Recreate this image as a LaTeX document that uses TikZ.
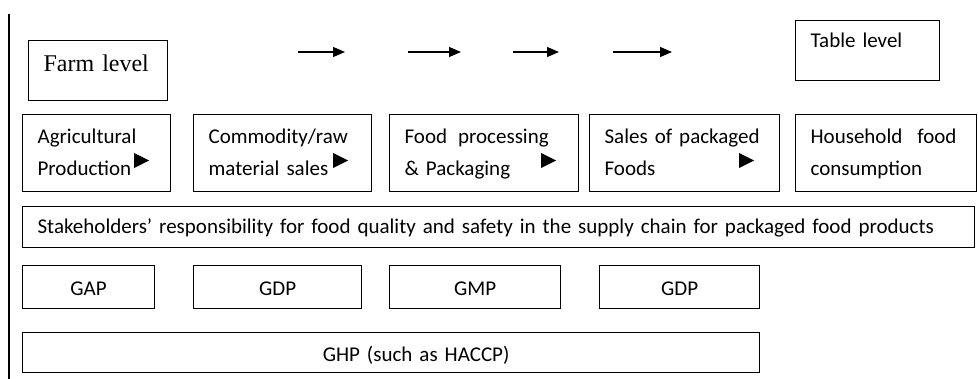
\documentclass[tikz,border=0pt]{standalone}
\usepackage{fontspec}
\setmainfont{Carlito}
\newfontfamily\timesfont{Liberation Serif}
\usetikzlibrary{arrows.meta}
\hyphenpenalty=10000
\exhyphenpenalty=10000

\tikzset{
  stage/.style={draw, line width=0.6pt, anchor=north west, inner xsep=7.5pt, inner ysep=0pt,
    align=left, font=\fontsize{10.5}{16.2}\selectfont},
  twoline/.style={stage, text height=14.35pt, text depth=24.15pt},
  practice/.style={stage, align=center, text height=15pt, text depth=6.5pt},
}

\begin{document}
\begin{tikzpicture}[x=0.5pt, y=-0.5pt]
    \useasboundingbox (0,0) rectangle (978,379);
    \draw[line width=0.6pt] (9,14) -- (9,379);

    \node[stage, font=\timesfont\fontsize{12}{14}\selectfont, text width=54.5pt,
      text height=15.35pt, text depth=14.65pt] (farm) at (28,40) {Farm level};
    \node[stage, text width=57pt, text height=13.35pt, text depth=16.65pt] (table) at (795,20) {Table level};

    \foreach \i/\a/\b in {1/298/345, 2/408/461, 3/513/559, 4/613/672} {
        \coordinate (s\i) at (\a,52);
        \coordinate (e\i) at (\b,52);
        \draw[line width=0.6pt, -{Triangle[length=6pt,width=5pt]}] (s\i) -- (e\i);
    }

    \node[twoline, text width=59pt]   (agri)    at (22,114)  {Agricultural\\Production};
    \node[twoline, text width=74pt]   (raw)     at (193,114) {Commodity/raw\\material sales};
    \node[twoline, text width=79.5pt] (process) at (389,114) {Food\hspace{5.5pt}processing\\\& Packaging};
    \node[twoline, text width=80pt]   (sales)   at (589,114) {Sales of packaged\\Foods};
    \node[twoline, text width=75.5pt] (house)   at (795,114) {Household\hspace{7.5pt}food\\consumption};

    \foreach \x in {134,333,541,739}
        \fill (\x,153) -- (\x+15,160.5) -- (\x,168) -- cycle;

    \node[stage, text width=461pt, text height=13.65pt, text depth=6.85pt] (resp) at (22,206)
      {Stakeholders’ responsibility for food quality and safety in the supply chain for packaged food products};

    \node[practice, text width=51pt]   (gap)  at (22,265)  {GAP};
    \node[practice, text width=69pt]   (gdp)  at (193,265) {GDP};
    \node[practice, text width=70.5pt] (gmp)  at (389,265) {GMP};
    \node[practice, text width=65pt]   (gdpb) at (599,265) {GDP};

    \node[practice, text width=353.5pt, text height=14.35pt, text depth=5.65pt] (ghp) at (22,332)
      {\hspace*{25pt}GHP (such as HACCP)};
\end{tikzpicture}
\end{document}
